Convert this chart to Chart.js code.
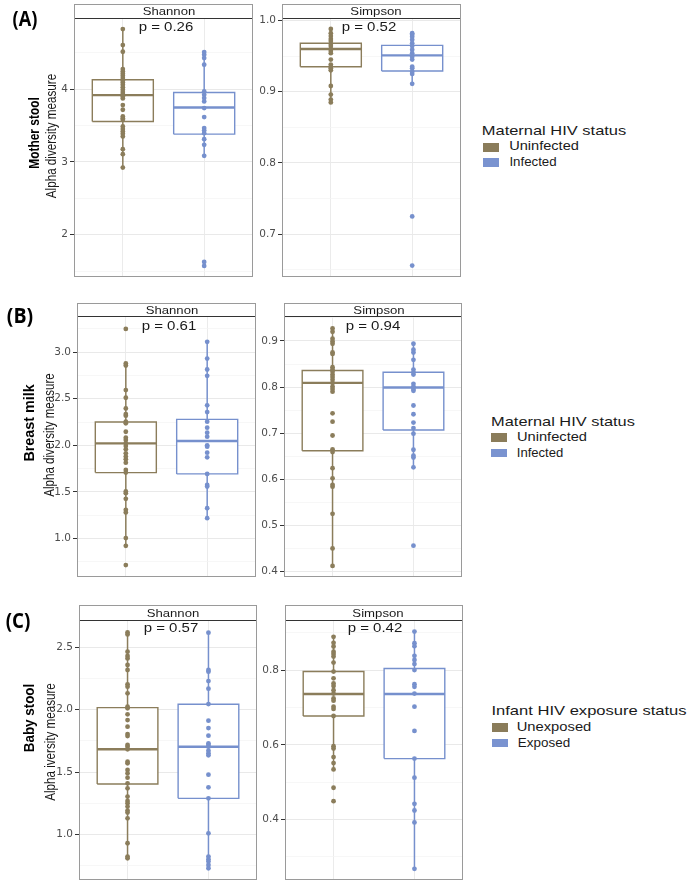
<!DOCTYPE html>
<html>
<head>
<meta charset="utf-8">
<script src="https://cdn.jsdelivr.net/npm/chart.js@4.4.0/dist/chart.umd.min.js"></script>
<style>
  body { margin: 0; background: #fff; width: 690px; height: 886px; position: relative; overflow: hidden;
         font-family: "Liberation Sans", Arial, sans-serif; }
  .strip { position: absolute; background: #fff; border: 1px solid #9a9a9a; border-bottom: 1.5px solid #333; box-sizing: border-box; z-index: 2; }
  .frame { position: absolute; border: 1px solid #9a9a9a; box-sizing: border-box; pointer-events: none; z-index: 2; }
  .txt { position: absolute; white-space: nowrap; line-height: 1; color: #1a1a1a; z-index: 3; }
  .sw { position: absolute; }
  canvas { position: absolute; z-index: 1; }
</style>
</head>
<body>
<script>
// groups
const maternalGroups = ['Uninfected', 'Infected'];
const infantGroups = ['Unexposed', 'Exposed'];
const brown = '#8b7d5b';
const blue = '#7690cd';

// (A) mother stool
const motherShannonUninf = [4.825, 4.605, 4.513, 4.275, 4.243, 4.211, 4.183, 4.151, 4.119, 4.092, 4.060, 4.027, 3.991, 3.959, 3.931, 3.899, 3.872, 3.780, 3.716, 3.624, 3.601, 3.578, 3.486, 3.450, 3.418, 3.386, 3.349, 3.175, 3.106, 2.922];
const motherShannonInf = [4.509, 4.472, 4.426, 4.335, 3.968, 3.922, 3.876, 3.830, 3.739, 3.615, 3.464, 3.431, 3.395, 3.312, 3.234, 3.083, 1.625, 1.570];
const motherShannonBoxes = [[2.922, 3.554, 3.917, 4.128, 4.825], [3.083, 3.381, 3.748, 3.954, 4.509]];
const motherSimpsonUninf = [0.988, 0.982, 0.978, 0.974, 0.971, 0.967, 0.964, 0.960, 0.957, 0.954, 0.945, 0.938, 0.935, 0.933, 0.930, 0.908, 0.896, 0.889, 0.885];
const motherSimpsonInf = [0.982, 0.980, 0.977, 0.973, 0.968, 0.964, 0.959, 0.954, 0.949, 0.945, 0.935, 0.933, 0.928, 0.925, 0.911, 0.725, 0.656];
const motherSimpsonBoxes = [[0.885, 0.935, 0.960, 0.968, 0.988], [0.911, 0.929, 0.951, 0.965, 0.982]];

// (B) breast milk
const milkShannonUninf = [3.250, 2.879, 2.857, 2.593, 2.511, 2.396, 2.336, 2.318, 2.254, 2.236, 2.146, 2.082, 2.057, 2.021, 1.993, 1.957, 1.914, 1.879, 1.850, 1.814, 1.736, 1.707, 1.504, 1.486, 1.425, 1.307, 1.279, 1.004, 0.921, 0.714];
const milkShannonInf = [3.111, 2.932, 2.814, 2.746, 2.429, 2.357, 2.254, 2.189, 2.136, 2.093, 2.000, 1.986, 1.921, 1.871, 1.693, 1.575, 1.557, 1.325, 1.218];
const milkShannonBoxes = [[0.921, 1.707, 2.021, 2.250, 2.879], [1.218, 1.693, 2.046, 2.279, 3.111]];
const milkSimpsonUninf = [0.927, 0.920, 0.905, 0.899, 0.894, 0.875, 0.872, 0.843, 0.838, 0.833, 0.827, 0.822, 0.816, 0.809, 0.801, 0.796, 0.790, 0.743, 0.725, 0.695, 0.665, 0.659, 0.624, 0.602, 0.588, 0.584, 0.525, 0.450, 0.412];
const milkSimpsonInf = [0.894, 0.881, 0.875, 0.859, 0.838, 0.832, 0.827, 0.807, 0.801, 0.796, 0.792, 0.760, 0.741, 0.723, 0.711, 0.699, 0.664, 0.651, 0.647, 0.626, 0.456];
const milkSimpsonBoxes = [[0.412, 0.662, 0.809, 0.836, 0.927], [0.626, 0.707, 0.799, 0.832, 0.894]];

// (C) baby stool
const babyShannonUnexp = [2.618, 2.602, 2.464, 2.429, 2.410, 2.357, 2.317, 2.203, 2.184, 2.131, 2.024, 2.011, 1.963, 1.917, 1.864, 1.805, 1.789, 1.718, 1.704, 1.683, 1.584, 1.571, 1.518, 1.491, 1.456, 1.411, 1.371, 1.305, 1.270, 1.251, 1.225, 1.193, 1.177, 1.131, 0.932, 0.825, 0.812];
const babyShannonExp = [2.616, 2.317, 2.304, 2.229, 2.168, 2.045, 1.912, 1.853, 1.792, 1.731, 1.718, 1.704, 1.672, 1.651, 1.635, 1.480, 1.379, 1.291, 1.011, 0.825, 0.804, 0.785, 0.758, 0.732];
const babyShannonBoxes = [[0.812, 1.406, 1.683, 2.016, 2.618], [0.732, 1.291, 1.704, 2.043, 2.616]];
const babySimpsonUnexp = [0.889, 0.873, 0.863, 0.849, 0.843, 0.836, 0.820, 0.796, 0.778, 0.764, 0.757, 0.746, 0.737, 0.724, 0.718, 0.702, 0.696, 0.677, 0.596, 0.590, 0.567, 0.551, 0.534, 0.485, 0.449];
const babySimpsonExp = [0.903, 0.872, 0.864, 0.838, 0.827, 0.816, 0.800, 0.762, 0.755, 0.737, 0.702, 0.637, 0.563, 0.512, 0.442, 0.424, 0.392, 0.268];
const babySimpsonBoxes = [[0.534, 0.677, 0.736, 0.796, 0.889], [0.268, 0.563, 0.736, 0.804, 0.903]];

// axis ticks
const shannonATicks = [2, 3, 4], shannonALabels = ['2', '3', '4'], shannonAMinor = [1.5, 2.5, 3.5, 4.5];
const simpsonATicks = [0.7, 0.8, 0.9, 1.0], simpsonALabels = ['0.7', '0.8', '0.9', '1.0'], simpsonAMinor = [0.65, 0.75, 0.85, 0.95];
const shannonBTicks = [1, 1.5, 2, 2.5, 3], shannonBLabels = ['1.0', '1.5', '2.0', '2.5', '3.0'], shannonBMinor = [0.75, 1.25, 1.75, 2.25, 2.75, 3.25];
const simpsonBTicks = [0.4, 0.5, 0.6, 0.7, 0.8, 0.9], simpsonBLabels = ['0.4', '0.5', '0.6', '0.7', '0.8', '0.9'], simpsonBMinor = [0.45, 0.55, 0.65, 0.75, 0.85, 0.95];
const shannonCTicks = [1, 1.5, 2, 2.5], shannonCLabels = ['1.0', '1.5', '2.0', '2.5'], shannonCMinor = [0.75, 1.25, 1.75, 2.25];
const simpsonCTicks = [0.4, 0.6, 0.8], simpsonCLabels = ['0.4', '0.6', '0.8'], simpsonCMinor = [0.3, 0.5, 0.7, 0.9];

// text helper, width-fitted to match the stretched figure
function addText(str, cx, cy, size, width, opt) {
  opt = opt || {};
  const el = document.createElement('div');
  el.className = 'txt';
  el.textContent = str;
  el.style.fontSize = size + 'px';
  if (opt.bold) el.style.fontWeight = 'bold';
  if (opt.family) el.style.fontFamily = opt.family;
  if (opt.color) el.style.color = opt.color;
  document.body.appendChild(el);
  const k = width ? width / el.offsetWidth : 1;
  if (opt.left) cx = cx + width / 2;
  el.style.left = cx + 'px';
  el.style.top = cy + 'px';
  el.style.transform = 'translate(-50%,-50%)' + (opt.rotate ? ' rotate(-90deg)' : '') + ' scaleX(' + k + ')';
}

function addBox(cls, l, t, w, h, bg) {
  const d = document.createElement('div');
  d.className = cls;
  d.style.left = l + 'px'; d.style.top = t + 'px';
  d.style.width = w + 'px'; d.style.height = h + 'px';
  if (bg) d.style.background = bg;
  document.body.appendChild(d);
}

function groupDatasets(x, box, pts, color) {
  const hw = 0.375;
  const [lo, q1, med, q3, hi] = box;
  return [
    { type: 'scatter', data: pts.map(v => ({ x: x, y: v })), backgroundColor: color, borderWidth: 0, pointRadius: 2.4, order: 0 },
    { type: 'line', data: [{ x: x - hw, y: med }, { x: x + hw, y: med }], borderColor: color, borderWidth: 2.4, pointRadius: 0, fill: false, order: 1 },
    { type: 'line', data: [{ x: x - hw, y: q1 }, { x: x + hw, y: q1 }, { x: x + hw, y: q3 }, { x: x - hw, y: q3 }, { x: x - hw, y: q1 }],
      borderColor: color, borderWidth: 1.4, pointRadius: 0, fill: false, order: 2 },
    { type: 'line', data: [{ x: x - hw, y: q3 }, { x: x + hw, y: q3 }], borderColor: 'rgba(0,0,0,0)', borderWidth: 1,
      backgroundColor: '#fff', pointRadius: 0, fill: { value: q1 }, order: 3 },
    { type: 'line', data: [{ x: x, y: lo }, { x: x, y: hi }], borderColor: color, borderWidth: 1.5, pointRadius: 0, fill: false, order: 4 }
  ];
}

function makePanel(p) {
  const L = Math.round(p.left), R = Math.round(p.right), T = Math.round(p.stripBottom), B = Math.round(p.bottom);
  const canvas = document.createElement('canvas');
  const cw = R - L + 50, ch = B - T + 20;
  canvas.width = cw; canvas.height = ch;
  canvas.style.width = cw + 'px'; canvas.style.height = ch + 'px';
  canvas.style.left = (L - 40) + 'px'; canvas.style.top = (T - 10) + 'px';
  document.body.appendChild(canvas);

  const all = p.major.concat(p.minor).filter(v => v >= p.range[0] && v <= p.range[1]).sort((a, b) => a - b);
  const isMajor = v => p.major.indexOf(v) >= 0;

  new Chart(canvas.getContext('2d'), {
    type: 'scatter',
    data: { datasets: groupDatasets(1, p.boxes[0], p.pts[0], brown).concat(groupDatasets(2, p.boxes[1], p.pts[1], blue)) },
    options: {
      responsive: false, animation: false, devicePixelRatio: 1,
      layout: { padding: { left: 0, top: 10, right: 10, bottom: 10 } },
      plugins: { legend: { display: false }, tooltip: { enabled: false } },
      scales: {
        x: {
          type: 'linear', min: 0.4, max: 2.6,
          afterBuildTicks: s => { s.ticks = [{ value: 1 }, { value: 2 }]; },
          afterFit: s => { s.height = 0; },
          ticks: { display: false },
          grid: { color: '#ebebeb', drawTicks: false },
          border: { display: false }
        },
        y: {
          min: p.range[0], max: p.range[1],
          afterBuildTicks: s => { s.ticks = all.map(v => ({ value: v })); },
          afterFit: s => { s.width = 40; },
          ticks: {
            autoSkip: false, padding: 2, color: '#4d4d4d',
            font: { family: 'DejaVu Sans', size: 10.5 },
            callback: v => { const i = p.major.indexOf(v); return i >= 0 ? p.labels[i] : ''; }
          },
          grid: {
            color: c => (c.tick && isMajor(c.tick.value)) ? '#e9e9e9' : '#f3f3f3',
            lineWidth: c => (c.tick && isMajor(c.tick.value)) ? 1 : 0.7,
            tickColor: c => (c.tick && isMajor(c.tick.value)) ? '#333' : 'rgba(0,0,0,0)',
            tickLength: 4, drawTicks: true
          },
          border: { display: false }
        }
      }
    }
  });

  addBox('strip', p.left, p.stripTop, p.right - p.left, p.stripBottom - p.stripTop + 0.5);
  addBox('frame', p.left, p.stripTop, p.right - p.left, p.bottom - p.stripTop);
  addText(p.strip, p.stripX, (p.stripTop + p.stripBottom) / 2, 10.5, p.strip === 'Shannon' ? 52.5 : 51.5);
  addText(p.pval, p.pX, p.pY, 12, 55);
}

const panels = [
  { left: 74, right: 253.3, stripTop: 4, stripBottom: 18.3, bottom: 277, range: [1.418, 4.977],
    major: shannonATicks, labels: shannonALabels, minor: shannonAMinor, boxes: motherShannonBoxes,
    pts: [motherShannonUninf, motherShannonInf], strip: 'Shannon', stripX: 168.8, pval: 'p = 0.26', pX: 165.5, pY: 27 },
  { left: 281.7, right: 461, stripTop: 4, stripBottom: 18.3, bottom: 277, range: [0.640, 1.0034],
    major: simpsonATicks, labels: simpsonALabels, minor: simpsonAMinor, boxes: motherSimpsonBoxes,
    pts: [motherSimpsonUninf, motherSimpsonInf], strip: 'Simpson', stripX: 376.3, pval: 'p = 0.52', pX: 369, pY: 27 },
  { left: 77.3, right: 255.7, stripTop: 302.5, stripBottom: 316.7, bottom: 577.3, range: [0.586, 3.378],
    major: shannonBTicks, labels: shannonBLabels, minor: shannonBMinor, boxes: milkShannonBoxes,
    pts: [milkShannonUninf, milkShannonInf], strip: 'Shannon', stripX: 171.7, pval: 'p = 0.61', pX: 168.8, pY: 325.5 },
  { left: 284.3, right: 462.3, stripTop: 302.5, stripBottom: 316.7, bottom: 577.3, range: [0.388, 0.952],
    major: simpsonBTicks, labels: simpsonBLabels, minor: simpsonBMinor, boxes: milkSimpsonBoxes,
    pts: [milkSimpsonUninf, milkSimpsonInf], strip: 'Simpson', stripX: 378.5, pval: 'p = 0.94', pX: 373.3, pY: 325.5 },
  { left: 79.3, right: 256.9, stripTop: 605, stripBottom: 620, bottom: 880, range: [0.638, 2.717],
    major: shannonCTicks, labels: shannonCLabels, minor: shannonCMinor, boxes: babyShannonBoxes,
    pts: [babyShannonUnexp, babyShannonExp], strip: 'Shannon', stripX: 173, pval: 'p = 0.57', pX: 170.7, pY: 628 },
  { left: 284.7, right: 463, stripTop: 605, stripBottom: 620, bottom: 880, range: [0.238, 0.934],
    major: simpsonCTicks, labels: simpsonCLabels, minor: simpsonCMinor, boxes: babySimpsonBoxes,
    pts: [babySimpsonUnexp, babySimpsonExp], strip: 'Simpson', stripX: 378.2, pval: 'p = 0.42', pX: 375, pY: 628 }
];
panels.forEach(makePanel);

// row tags and axis titles
const tagFont = '"Open Sans", "DejaVu Sans", sans-serif';
addText('(A)', 25, 17.5, 21, 25, { bold: true, family: tagFont, color: '#000' });
addText('(B)', 20, 315, 21, 26, { bold: true, family: tagFont, color: '#000' });
addText('(C)', 17.5, 620, 21, 25, { bold: true, family: tagFont, color: '#000' });

addText('Mother stool', 32.5, 132.5, 15, 71.6, { bold: true, rotate: true, color: '#000' });
addText('Alpha diversity measure', 51, 136, 14, 124, { rotate: true });
addText('Breast milk', 27.5, 423, 15, 77.3, { bold: true, rotate: true, color: '#000' });
addText('Alpha diversity measure', 48.5, 435, 14, 123, { rotate: true });
addText('Baby stool', 27.5, 718.3, 15, 68.7, { bold: true, rotate: true, color: '#000' });
addText('Alpha iversity measure', 49.5, 741.7, 14, 118, { rotate: true });

// legends
function legend(title, labels, x, titleY, titleW, swX, swY, labX, labY, labW) {
  addText(title, x, titleY, 13.5, titleW, { left: true });
  addBox('sw', swX, swY[0], 16.7, 8.4, '#8a7c5a');
  addBox('sw', swX, swY[1], 16.7, 8.4, '#7a93d0');
  addText(labels[0], labX, labY[0], 12.5, labW[0], { left: true });
  addText(labels[1], labX, labY[1], 12.5, labW[1], { left: true });
}
legend('Maternal HIV status', maternalGroups, 481.7, 131, 145, 482.7, [143.3, 158.3], 509.3, [146, 162], [70, 46.7]);
legend('Maternal HIV status', maternalGroups, 490.7, 421.7, 144.3, 490.7, [433.3, 449], 517.3, [437, 452.5], [70.3, 46]);
legend('Infant HIV exposure status', infantGroups, 491.7, 711, 195, 491.7, [723.3, 739], 517.3, [727, 742.5], [74.3, 52.7]);
</script>
</body>
</html>
